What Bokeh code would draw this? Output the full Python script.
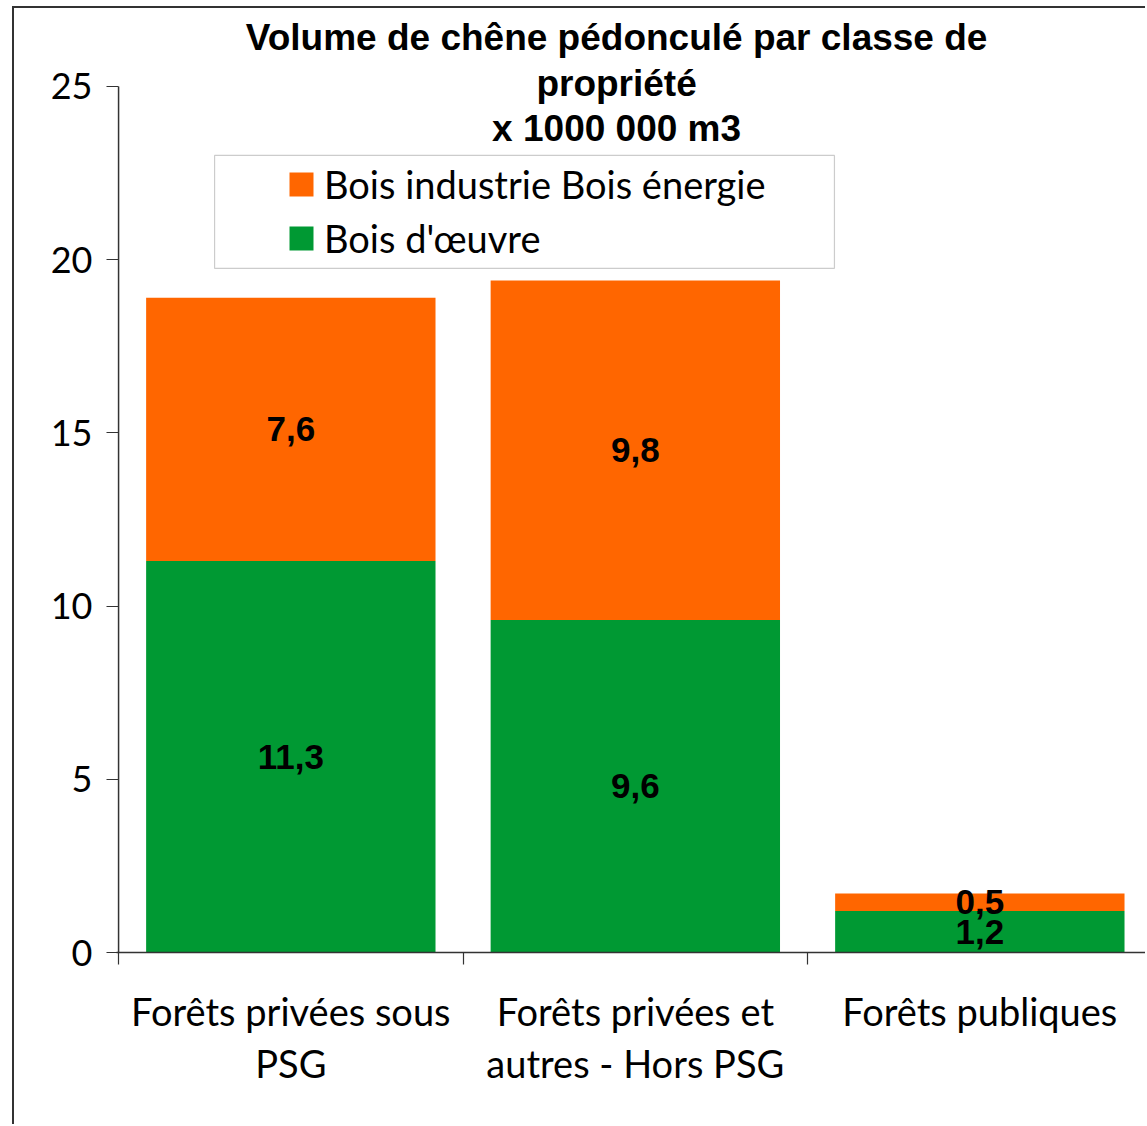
from bokeh.plotting import figure
from bokeh.models import (ColumnDataSource, Range1d, FixedTicker, LinearAxis, Legend,
                          LegendItem, BoxAnnotation, Label)
from bokeh.core.properties import value
from bokeh.embed import file_html
from bokeh.resources import INLINE

# ---- data ----
categories = ["Forêts privées sous\nPSG", "Forêts privées et\nautres - Hors PSG", "Forêts publiques"]
bois_oeuvre = [11.3, 9.6, 1.2]
bois_industrie = [7.6, 9.8, 0.5]
series_names = ["Bois industrie Bois énergie", "Bois d'œuvre"]
y_ticks = [0, 5, 10, 15, 20, 25]
title_lines = ["Volume de chêne pédonculé par classe de", "propriété", "x 1000 000 m3"]

GREEN = "#009933"
ORANGE = "#FF6600"
REG = "Lato"
BOLD = "Liberation Sans"

W, H = 1133, 1118
p = figure(width=W, height=H, output_backend="svg", toolbar_location=None,
           x_range=Range1d(-0.006, 2.9867), y_range=Range1d(0, 27.2517),
           min_border_left=102, min_border_right=0, min_border_top=0,
           min_border_bottom=174, x_axis_type=None, y_axis_type=None)
p.outline_line_color = None
p.background_fill_color = "white"
p.border_fill_color = "white"
p.styles = {"margin-left": "12px", "margin-top": "6px",
            "border-left": "2px solid #333333", "border-top": "2px solid #333333"}

xc = [i + 0.5 for i in range(len(categories))]
tops_o = [g + o for g, o in zip(bois_oeuvre, bois_industrie)]
src = ColumnDataSource(dict(
    x=xc, tg=bois_oeuvre, to=tops_o,
    yg=[g / 2 for g in bois_oeuvre],
    yo=[g + o / 2 for g, o in zip(bois_oeuvre, bois_industrie)],
    lg=[f"{v:.1f}".replace(".", ",") for v in bois_oeuvre],
    lo=[f"{v:.1f}".replace(".", ",") for v in bois_industrie],
))

rg = p.vbar(x="x", bottom=0, top="tg", width=0.84, source=src, fill_color=GREEN, line_color=None)
ro = p.vbar(x="x", bottom="tg", top="to", width=0.84, source=src, fill_color=ORANGE, line_color=None)

for col_y, col_t in (("yg", "lg"), ("yo", "lo")):
    p.text(x="x", y=col_y, text=col_t, source=src, text_align="center", text_baseline="middle",
           text_font=value(BOLD), text_font_style="bold", text_font_size="35px", text_color="black")

# y axis line (from 0 to 25 only)
p.segment(x0=0, y0=y_ticks[0], x1=0, y1=y_ticks[-1], line_color="#333333", line_width=1.5)

# axes
yax = LinearAxis(ticker=FixedTicker(ticks=y_ticks))
yax.axis_line_color = None
yax.major_tick_line_color = "#333333"
yax.major_tick_line_width = 1.2
yax.major_tick_in = 2
yax.major_tick_out = 10
yax.minor_tick_line_color = None
yax.major_label_text_font = REG
yax.major_label_text_font_size = "36px"
yax.major_label_text_color = "black"
yax.major_label_standoff = 14
p.add_layout(yax, "left")

xax = LinearAxis(ticker=FixedTicker(ticks=xc, minor_ticks=[0, 1, 2, 3]))
xax.major_label_overrides = {x: c for x, c in zip(xc, categories)}
xax.axis_line_color = "#333333"
xax.axis_line_width = 1.5
xax.major_tick_line_color = None
xax.minor_tick_line_color = "#333333"
xax.minor_tick_line_width = 1.2
xax.minor_tick_in = 0
xax.minor_tick_out = 12
xax.major_label_text_font = REG
xax.major_label_text_font_size = "38px"
xax.major_label_text_color = "black"
xax.major_label_text_line_height = 1.15
xax.major_label_standoff = 23
p.add_layout(xax, "below")

p.ygrid.ticker = FixedTicker(ticks=y_ticks)
p.ygrid.grid_line_color = "#8c8c8c"
p.ygrid.grid_line_width = 1.5
p.xgrid.visible = False

# legend box and legend
p.add_layout(BoxAnnotation(left=0.2787, right=2.078, top=23.01, bottom=19.75,
                           fill_color="white", fill_alpha=1, line_color="#555555", line_width=1.2))
legend = Legend(items=[LegendItem(label=series_names[0], renderers=[ro]),
                       LegendItem(label=series_names[1], renderers=[rg])],
                location=(170, 691), orientation="vertical",
                background_fill_alpha=0, border_line_color=None,
                padding=0, margin=0, spacing=8, glyph_width=30, glyph_height=30,
                label_height=30, label_standoff=8,
                label_text_font=REG, label_text_font_size="38px", label_text_color="black")
p.add_layout(legend, "center")

# title
for ty, t in zip([26.414, 25.087, 23.788], title_lines):
    p.add_layout(Label(x=1.4456, y=ty, text=t, text_align="center", text_baseline="middle",
                       text_font=BOLD, text_font_style="bold", text_font_size="37px",
                       text_color="black"))

open("out.html", "w").write(file_html(p, INLINE))
